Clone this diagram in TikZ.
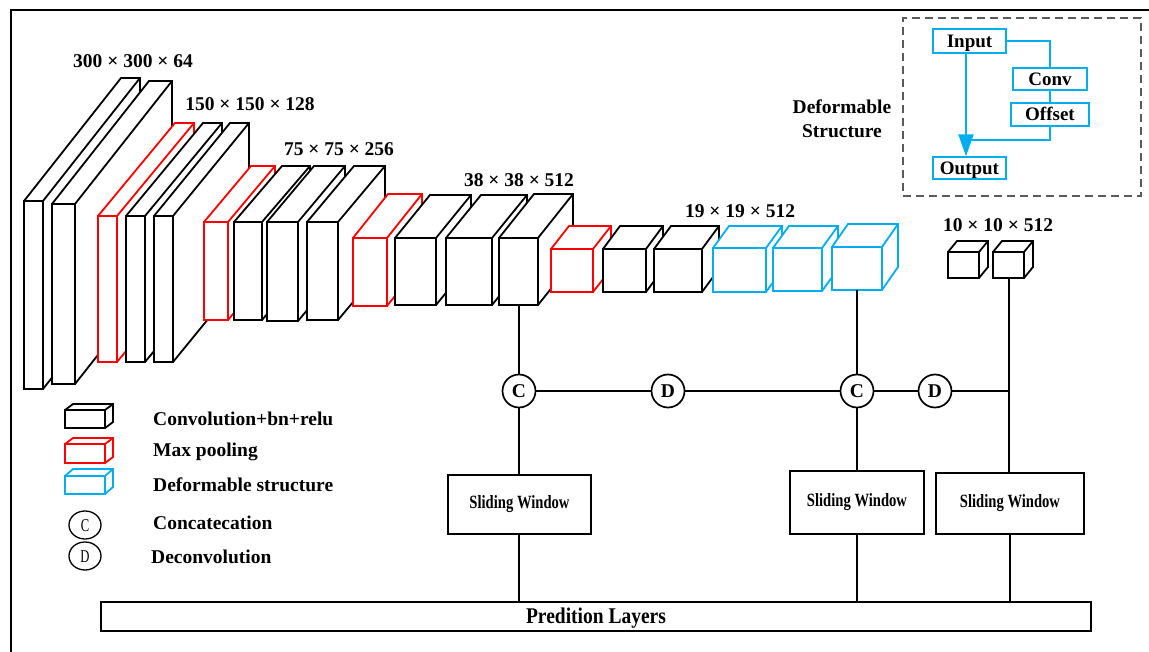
\documentclass[tikz,border=0pt]{standalone}
\usepackage{fontspec}
\setmainfont{Liberation Serif}
\usetikzlibrary{arrows.meta,shapes.geometric}
\definecolor{blu}{RGB}{0,174,239}
\definecolor{dgray}{RGB}{90,90,90}
% #1 colour, #2 x1, #3 y1, #4 x2, #5 y2 (front face), #6 dx, #7 dy (depth)
\newcommand{\cuboid}[7]{%
  \filldraw[bline, draw=#1, fill=white] (#2,#3) -- ++(#6,#7) -- ({#4+(#6)},{#3+(#7)}) -- ({#4+(#6)},{#5+(#7)}) -- (#4,#5) -- (#2,#5) -- cycle;
  \draw[bline, draw=#1] (#2,#3) rectangle (#4,#5) (#4,#3) -- ++(#6,#7);
}
\begin{document}
\begin{tikzpicture}[x=1pt,y=-1pt,
  lbl/.style={font=\fontsize{19.5}{23}\selectfont\bfseries, inner sep=0pt},
  conn/.style={line width=1.8pt},
  circ/.style={circle, draw, line width=1.7pt, minimum size=33pt, inner sep=0pt, text height=12.8pt, text depth=0pt, font=\fontsize{19.5}{20}\selectfont\bfseries, fill=white},
  swbox/.style={draw, line width=1.8pt, inner sep=0pt, font=\fontsize{17}{17}\selectfont\bfseries},
  ibox/.style={draw=blu, line width=1.4pt, inner sep=0pt, text height=12.6pt, text depth=0pt, font=\fontsize{19}{20}\selectfont\bfseries},
  bline/.style={line width=1.8pt, line join=miter},
  legc/.style={ellipse, draw, line width=1.3pt, minimum width=32pt, minimum height=28pt, inner sep=0pt, text height=12pt, text depth=0pt},
]
\useasboundingbox (0,0) rectangle (1149,652);
\fill[white] (0,0) rectangle (1149,652);
% frame
\draw[line width=1.8pt] (11,652) -- (11,10) -- (1149,10);

% feature blocks
\cuboid{black}{24}{201}{43}{389}{97}{-123}
\cuboid{black}{52}{204}{75}{384}{97}{-123}
\cuboid{red}{98}{216}{117}{362}{77}{-93}
\cuboid{black}{126}{216}{145}{362}{77}{-93}
\cuboid{black}{154}{216}{173}{362}{76}{-93}
\cuboid{red}{204}{222}{228}{320}{47}{-56}
\cuboid{black}{234}{222}{262}{320}{48}{-56}
\cuboid{black}{267}{222}{298}{321}{47}{-56}
\cuboid{black}{307}{222}{338}{320}{47}{-56}
\cuboid{red}{353}{238}{387}{306}{35}{-44}
\cuboid{black}{395}{238}{436}{305}{35}{-43}
\cuboid{black}{446}{238}{492}{305}{35}{-43}
\cuboid{black}{499}{238}{538}{305}{35}{-44}
\cuboid{red}{551}{249}{593}{292}{18}{-23}
\cuboid{black}{603}{249}{646}{292}{17}{-23}
\cuboid{black}{654}{249}{702}{292}{17}{-23}
\cuboid{blu}{713}{248}{766}{292}{16}{-22}
\cuboid{blu}{773}{248}{822}{291}{16}{-22}
\cuboid{blu}{832}{247}{882}{290}{16}{-23}
\cuboid{black}{948}{252}{979}{278}{9}{-11}
\cuboid{black}{993}{252}{1024}{278}{9}{-11}

% size labels
\node[lbl, anchor=base] (l1) at (133,68) {300 × 300 × 64};
\node[lbl, anchor=base] (l2) at (250,111) {150 × 150 × 128};
\node[lbl, anchor=base] (l3) at (339,156) {75 × 75 × 256};
\node[lbl, anchor=base] (l4) at (519,187) {38 × 38 × 512};
\node[lbl, anchor=base] (l5) at (740,218) {19 × 19 × 512};
\node[lbl, anchor=base] (l6) at (998,232) {10 × 10 × 512};

% connection points on blocks
\coordinate (b13) at (519,305);
\coordinate (b20) at (857,290);
\coordinate (s2) at (1009,278);
\coordinate (jn) at (1009,391);

% C / D nodes
\node[circ] (c1) at (519,391) {C};
\node[circ] (d1) at (668,391) {D};
\node[circ] (c2) at (857,391) {C};
\node[circ] (d2) at (935,391) {D};

% sliding windows and prediction
\node[swbox, minimum width=143pt, minimum height=59pt] (sw1) at (519.5,504.5) {\scalebox{0.86}[1.1]{Sliding Window}};
\node[swbox, minimum width=134pt, minimum height=63pt] (sw2) at (857,502.5) {\scalebox{0.86}[1.1]{Sliding Window}};
\node[swbox, minimum width=148pt, minimum height=61pt] (sw3) at (1010,503.5) {\scalebox{0.86}[1.1]{Sliding Window}};
\node[lbl, draw, line width=1.8pt, minimum width=990pt, minimum height=29pt, text height=14.8pt, text depth=0pt] (pred) at (596,616.5) {\scalebox{1}[1.15]{Predition Layers}};

\draw[conn] (b13) -- (c1);
\draw[conn] (c1) -- (c1 |- sw1.north);
\draw[conn] (c1 |- sw1.south) -- (c1 |- pred.north);
\draw[conn] (b20) -- (c2);
\draw[conn] (c2) -- (c2 |- sw2.north);
\draw[line width=1.1pt] (sw2.south) -- (sw2.south |- pred.north);
\draw[conn] (s2) -- (s2 |- sw3.north);
\draw[conn] (sw3.south) -- (sw3.south |- pred.north);
\draw[conn] (c1) -- (d1) -- (c2) -- (d2) -- (jn);

% deformable structure inset
\node[draw=dgray, dash pattern=on 8pt off 5pt, line width=1.5pt, minimum width=238pt, minimum height=178pt, inner sep=0pt] (dbox) at (1022,107) {};
\node[ibox, minimum width=73pt, minimum height=24pt] (in) at (969.5,41) {Input};
\node[ibox, minimum width=74pt, minimum height=22pt] (conv) at (1050,79) {Conv};
\node[ibox, minimum width=78pt, minimum height=23pt] (off) at (1050,114.5) {Offset};
\node[ibox, minimum width=73pt, minimum height=22pt] (out) at (969.5,168) {Output};
\coordinate (ax) at (966,100);
\coordinate (jo) at (966,140);
\draw[blu, line width=1.4pt] (in.east) -| (conv.north);
\draw[blu, line width=1.4pt] (conv) -- (off);
\draw[blu, line width=2.2pt] (off.south) |- (jo);
\draw[blu, line width=2.2pt, -{Triangle[length=22pt,width=15pt]}] (in.south -| ax) -- (out.north -| ax);
\node[lbl, align=center, anchor=north, font=\fontsize{19.5}{24}\selectfont\bfseries] (ds) at (842,100) {Deformable\\Structure};

% legend
\cuboid{black}{65}{410}{105}{428}{8}{-6}
\cuboid{red}{65}{444}{105}{463}{8}{-6}
\cuboid{blu}{65}{476}{105}{494}{8}{-7}
\node[legc] (lc) at (85,525) {\scalebox{0.7}[1]{\fontsize{18}{18}\selectfont C}};
\node[legc] (ld) at (85,556) {\scalebox{0.7}[1]{\fontsize{18}{18}\selectfont D}};
\node[lbl, anchor=base west] (t1) at (153,425) {Convolution+bn+relu};
\node[lbl, anchor=base west] (t2) at (153,456) {Max pooling};
\node[lbl, anchor=base west] (t3) at (153,491) {Deformable structure};
\node[lbl, anchor=base west] (t4) at (153,529) {Concatecation};
\node[lbl, anchor=base west] (t5) at (151,563) {Deconvolution};
\end{tikzpicture}
\end{document}
